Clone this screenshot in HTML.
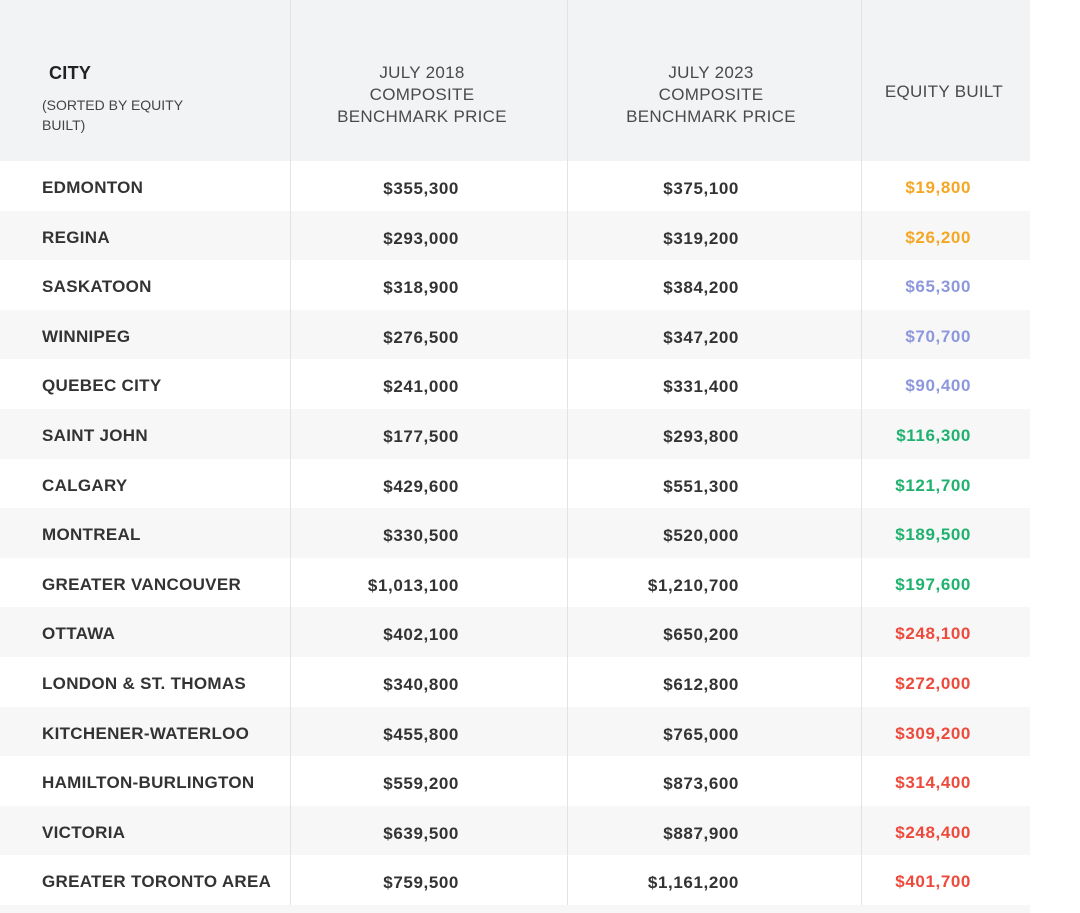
<!DOCTYPE html><html><head><style>
body{margin:0;width:1080px;height:913px;background:#fff;font-family:"Liberation Sans",sans-serif;position:relative;overflow:hidden}
.hdr{position:absolute;left:0;top:0;width:1030px;height:161px;background:#f2f3f5}
.row{position:absolute;left:0;width:1030px;height:49.6px}
.row.g{background:#f7f7f8}
.vl{position:absolute;top:0;width:1px;height:905px;background:#e2e3e6}
.t{position:absolute;font-weight:bold;font-size:17px;letter-spacing:0.6px;color:#333;line-height:20px;white-space:nowrap}
.h{position:absolute;font-size:17px;letter-spacing:0.3px;color:#4a4a4a;text-align:center;line-height:22px;white-space:nowrap}
</style></head><body>
<div class="hdr"></div>
<div id="rows"></div>
<div class="row g" style="top:905px;height:8px"></div>
<div class="vl" style="left:290px"></div>
<div class="vl" style="left:567px"></div>
<div class="vl" style="left:861px"></div>
<div class="t" style="left:49px;top:63px;font-size:18px;color:#222;letter-spacing:0.3px">CITY</div>
<div style="position:absolute;left:42px;top:95px;font-size:14px;color:#444;line-height:20px">(SORTED BY EQUITY<br>BUILT)</div>
<div class="h" style="left:322px;width:200px;top:62px">JULY 2018<br>COMPOSITE<br>BENCHMARK PRICE</div>
<div class="h" style="left:611px;width:200px;top:62px">JULY 2023<br>COMPOSITE<br>BENCHMARK PRICE</div>
<div class="h" style="left:844px;width:200px;top:81px">EQUITY BUILT</div>
<script>
var d=[["EDMONTON","$355,300","$375,100","$19,800","#f5a623"],["REGINA","$293,000","$319,200","$26,200","#f5a623"],["SASKATOON","$318,900","$384,200","$65,300","#8d98dc"],["WINNIPEG","$276,500","$347,200","$70,700","#8d98dc"],["QUEBEC CITY","$241,000","$331,400","$90,400","#8d98dc"],["SAINT JOHN","$177,500","$293,800","$116,300","#1fb26f"],["CALGARY","$429,600","$551,300","$121,700","#1fb26f"],["MONTREAL","$330,500","$520,000","$189,500","#1fb26f"],["GREATER VANCOUVER","$1,013,100","$1,210,700","$197,600","#1fb26f"],["OTTAWA","$402,100","$650,200","$248,100","#ee4a3c"],["LONDON &amp; ST. THOMAS","$340,800","$612,800","$272,000","#ee4a3c"],["KITCHENER-WATERLOO","$455,800","$765,000","$309,200","#ee4a3c"],["HAMILTON-BURLINGTON","$559,200","$873,600","$314,400","#ee4a3c"],["VICTORIA","$639,500","$887,900","$248,400","#ee4a3c"],["GREATER TORONTO AREA","$759,500","$1,161,200","$401,700","#ee4a3c"]];
var h="";
d.forEach(function(r,i){var top=161+i*49.6,c=top+18;
h+='<div class="row'+(i%2?' g':'')+'" style="top:'+top+'px"></div>';
h+='<div class="t" style="left:42px;top:'+(c-1)+'px;letter-spacing:0.3px">'+r[0]+'</div>';
h+='<div class="t" style="right:'+(1080-459)+'px;top:'+c+'px">'+r[1]+'</div>';
h+='<div class="t" style="right:'+(1080-739)+'px;top:'+c+'px">'+r[2]+'</div>';
h+='<div class="t" style="right:'+(1080-971)+'px;top:'+(c-1)+'px;color:'+r[4]+'">'+r[3]+'</div>';});
document.getElementById("rows").innerHTML=h;
</script>
</body></html>
